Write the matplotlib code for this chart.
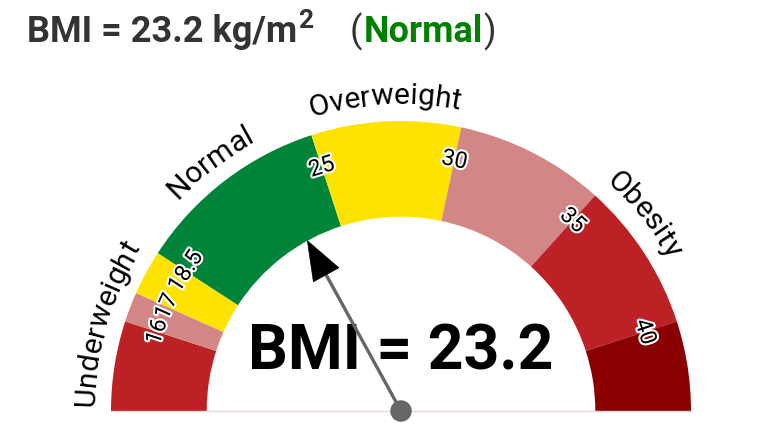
import numpy as np
import matplotlib.pyplot as plt
from matplotlib.patches import Wedge, Polygon, Circle
import matplotlib.patheffects as pe

plt.rcParams['font.family'] = ['Roboto', 'DejaVu Sans']

# gauge data
bmi = 23.2
bmi_min, bmi_max = 13, 43
breaks = [13, 16, 17, 18.5, 25, 30, 35, 40, 43]
band_colors = ['#BC2125', '#D38686', '#FFE300', '#00843A',
               '#FFE300', '#D38686', '#BC2125', '#8A0000']
tick_values = [16, 17, 18.5, 25, 30, 35, 40]
tick_labels = ['16', '17', '18.5', '25', '30', '35', '40']
categories = ['Underweight', 'Normal', 'Overweight', 'Obesity']
cat_ranges = [(13, 18.5), (18.5, 25), (25, 30), (30, 43)]

R_OUT = 1.0
R_IN = 0.67
PX = 290  # pixels per data unit


def to_angle(v):
    # map a bmi value onto the half circle (180 deg left -> 0 deg right)
    return 180 - (v - bmi_min) / (bmi_max - bmi_min) * 180


def polar(r, ang):
    a = np.radians(ang)
    return r * np.cos(a), r * np.sin(a)


fig = plt.figure(figsize=(7.68, 4.37), dpi=100)
ax = fig.add_axes([0, 0, 1, 1])
ax.set_xlim(-401 / PX, 367 / PX)
ax.set_ylim(-26 / PX, 411 / PX)
ax.axis('off')
renderer = fig.canvas.get_renderer()

# colored bands
for lo, hi, col in zip(breaks[:-1], breaks[1:], band_colors):
    ax.add_patch(Wedge((0, 0), R_OUT, to_angle(hi), to_angle(lo),
                       width=R_OUT - R_IN, facecolor=col, edgecolor='none'))

# faint base line
ax.plot([-1, 1], [0, 0], color='#E8D6DE', lw=1, zorder=1)

# tick labels at the band boundaries
for v, lab in zip(tick_values, tick_labels):
    ang = to_angle(v)
    x, y = polar(0.885, ang)
    ax.text(x, y, lab, ha='center', va='center', rotation=ang - 90,
            rotation_mode='anchor', fontsize=16.5, color='black',
            path_effects=[pe.withStroke(linewidth=3, foreground='white')],
            zorder=5)


def text_width(s, **kw):
    t = ax.text(0, 0, s, **kw)
    w = t.get_window_extent(renderer).width
    t.remove()
    return w


def curved_text(s, center_ang, r, **kw):
    # lay the characters one by one along an arc of radius r
    edges = [0.0] + [text_width(s[:i + 1], **kw) for i in range(len(s))]
    r_px = r * PX
    start = center_ang + np.degrees(edges[-1] / r_px) / 2
    for i, ch in enumerate(s):
        mid = (edges[i] + edges[i + 1]) / 2
        ang = start - np.degrees(mid / r_px)
        x, y = polar(r, ang)
        ax.text(x, y, ch, ha='center', va='baseline', rotation=ang - 90,
                rotation_mode='anchor', **kw)


# category names following the outer arc
for name, (lo, hi) in zip(categories, cat_ranges):
    curved_text(name, to_angle((lo + hi) / 2), 1.058, fontsize=21.5,
                color='black')

# big value text
ax.text(0, 41 / PX, f'BMI = {bmi}', ha='center', va='baseline', fontsize=45,
        fontweight='bold', color='black', zorder=3)

# needle
ang = to_angle(bmi)
head_len, head_w = 0.134, 0.05
tip = np.array(polar(R_IN, ang))
base = np.array(polar(R_IN - head_len, ang))
perp = np.array(polar(head_w, ang + 90))
ax.plot([0, base[0]], [0, base[1]], color='#666666', lw=2.4,
        solid_capstyle='butt', zorder=4)
ax.add_patch(Polygon([tip, base + perp, base - perp], closed=True,
                     facecolor='black', edgecolor='black', lw=0.5, zorder=4))
ax.add_patch(Circle((0, 0), 0.037, facecolor='#666666', edgecolor='none',
                    zorder=6))

# title pieces, laid out left to right on one baseline
title_color = '#333333'
W, H = 768, 437
base_y = 1 - 42 / H


def put(x_px, s, dy_px=0, **kw):
    t = fig.text(x_px / W, base_y + dy_px / H, s, ha='left', va='baseline', **kw)
    return t.get_window_extent(renderer).x1


x = put(27, 'BMI = 23.2 kg/m', fontsize=26, fontweight='bold', color=title_color)
put(x + 1, '2', dy_px=14, fontsize=19, fontweight='bold', color=title_color)
x = put(x + 53, '(', fontsize=26, color=title_color)
x = put(x + 1, 'Normal', fontsize=26, fontweight='bold', color='#008000')
put(x + 1, ')', fontsize=26, color=title_color)

fig.savefig('out.png', dpi=100)
